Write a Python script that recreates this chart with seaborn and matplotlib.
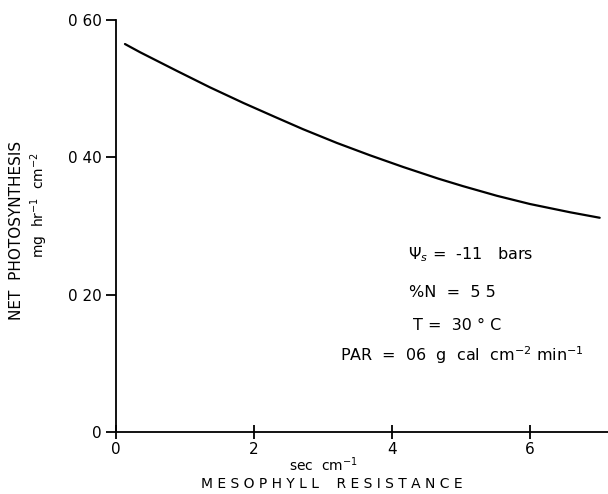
import numpy as np
import pandas as pd
import matplotlib
matplotlib.use("Agg")
import matplotlib.pyplot as plt
import seaborn as sns

# Data
resistance = [0.13, 0.35, 0.88, 1.36, 1.85, 2.30, 2.71, 3.20, 3.68, 4.16,
              4.67, 5.03, 5.52, 6.00, 6.58, 7.01]
photosynthesis = [0.565, 0.553, 0.526, 0.502, 0.479, 0.459, 0.441, 0.421, 0.403, 0.386,
                  0.369, 0.358, 0.344, 0.332, 0.320, 0.312]
x_ticks = [0, 2, 4, 6]
x_tick_labels = ["0", "2", "4", "6"]
y_ticks = [0.0, 0.2, 0.4, 0.6]
y_tick_labels = ["0", "0 20", "0 40", "0 60"]
notes = [r"$\Psi_s$ =  -11   bars", "%N  =  5 5", "T =  30 ° C",
         r"PAR  =  06  g  cal  cm$^{-2}$ min$^{-1}$"]

df = pd.DataFrame({"r": resistance, "p": photosynthesis})

sns.set_theme(style="ticks")
plt.rcParams["font.family"] = ["DejaVu Sans"]
plt.rcParams["text.color"] = "black"
plt.rcParams["xtick.color"] = "black"
plt.rcParams["ytick.color"] = "black"

fig = plt.figure(figsize=(6.08, 4.94), dpi=100)
ax = fig.add_axes([116/608, 62/494, 1 - 116/608, (432-20)/494])

sns.lineplot(data=df, x="r", y="p", ax=ax, color="black", linewidth=1.6)

ax.set_xlim(0, (608-116)/69)
ax.set_ylim(0, 0.6)
ax.set_xticks(x_ticks)
ax.set_xticklabels(x_tick_labels, fontsize=11)
ax.set_yticks(y_ticks)
ax.set_yticklabels(y_tick_labels, fontsize=11)
ax.tick_params(axis="x", direction="inout", length=10, width=1.3, pad=2, labelcolor="black")
ax.tick_params(axis="y", direction="out", length=7, width=1.3, pad=3, labelcolor="black")
ax.set_xlabel("")
ax.set_ylabel("")
for s in ["top", "right"]:
    ax.spines[s].set_visible(False)
for s in ["left", "bottom"]:
    ax.spines[s].set_linewidth(1.3)
    ax.spines[s].set_color("black")

# axis labels
fig.text(17/608, 1 - 230/494, "NET  PHOTOSYNTHESIS", rotation=90,
         ha="center", va="center", fontsize=11)
fig.text(39/608, 1 - 205/494, r"mg  hr$^{-1}$  cm$^{-2}$", rotation=90,
         ha="center", va="center", fontsize=10)
fig.text(323/608, 1 - 465/494, r"sec  cm$^{-1}$", ha="center", va="center", fontsize=10)
fig.text(332/608, 1 - 484/494, "M E S O P H Y L L    R E S I S T A N C E",
         ha="center", va="center", fontsize=10)

# annotations
ys = [255, 292, 325, 355]
xs = [471, 452, 457, 462]
for t, yy, xx in zip(notes, ys, xs):
    fig.text(xx/608, 1 - yy/494, t, ha="center", va="center", fontsize=11.5)

fig.savefig("out.png", dpi=100)
